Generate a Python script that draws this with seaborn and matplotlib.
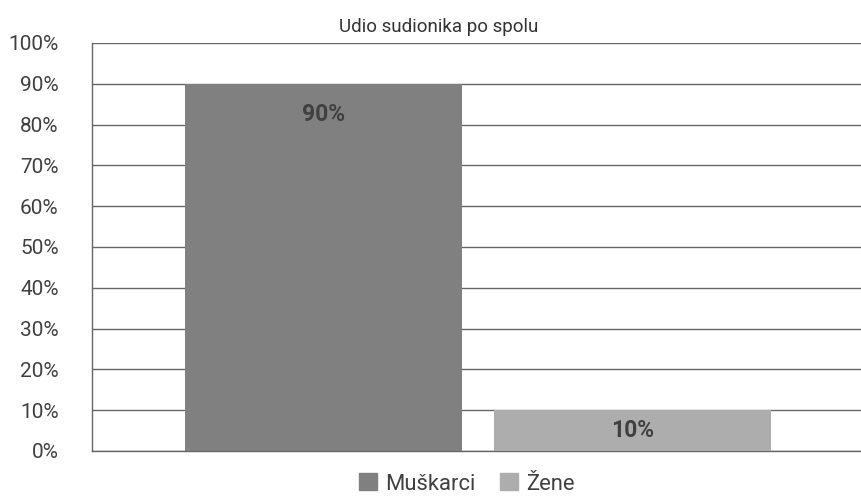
import pandas as pd
import numpy as np
import matplotlib.pyplot as plt
import seaborn as sns

# Data
categories = ["Muškarci", "Žene"]
shares = [90, 10]
colors = ["#808080", "#adadad"]

df = pd.DataFrame({"spol": categories, "udio": shares})

sns.set_style("white")
plt.rcParams["font.family"] = ["Roboto", "DejaVu Sans"]

fig = plt.figure(figsize=(8.61, 4.96), dpi=100)
ax = fig.add_axes([92 / 861, 1 - 451 / 496, (864 - 92) / 861, (451 - 43) / 496])

sns.barplot(data=df, x="spol", y="udio", hue="spol", palette=colors,
            width=0.896, saturation=1, legend=False, ax=ax, zorder=3,
            linewidth=0, edgecolor="none")

ax.set_xlim(-0.749, 1.749)
ax.set_ylim(0, 100)
ax.set_yticks(np.arange(0, 101, 10))
ax.set_yticklabels([f"{t}%" for t in range(0, 101, 10)], fontsize=15, color="#404040")
ax.set_xticks([])
ax.set_xlabel("")
ax.set_ylabel("")
ax.tick_params(axis="y", length=0, pad=24)

ax.grid(axis="y", color="#666666", linewidth=1)
ax.set_axisbelow(True)
for s in ["top", "right"]:
    ax.spines[s].set_visible(False)
ax.spines["left"].set_color("#666666")
ax.spines["bottom"].set_color("#666666")
ax.spines["left"].set_linewidth(1)
ax.spines["bottom"].set_linewidth(1)

# value labels
for i, v in enumerate(shares):
    y = max(v - 7.5, v / 2)
    ax.text(i, y, f"{v}%", ha="center", va="center", fontsize=16.5,
            fontweight="bold", color="#404040", zorder=4)

fig.text(439 / 861, 1 - 27 / 496, "Udio sudionika po spolu", ha="center",
         va="center", fontsize=13.5, color="#333333")

handles = [plt.Rectangle((0, 0), 1, 1, color=c) for c in colors]
fig.legend(handles, categories, loc="center", bbox_to_anchor=(467 / 861, 1 - 484 / 496),
           ncol=2, frameon=False, fontsize=15.8, handlelength=0.8, handleheight=0.8,
           handletextpad=0.4, columnspacing=1.1, labelcolor="#404040")

fig.savefig("out.png", dpi=100)
